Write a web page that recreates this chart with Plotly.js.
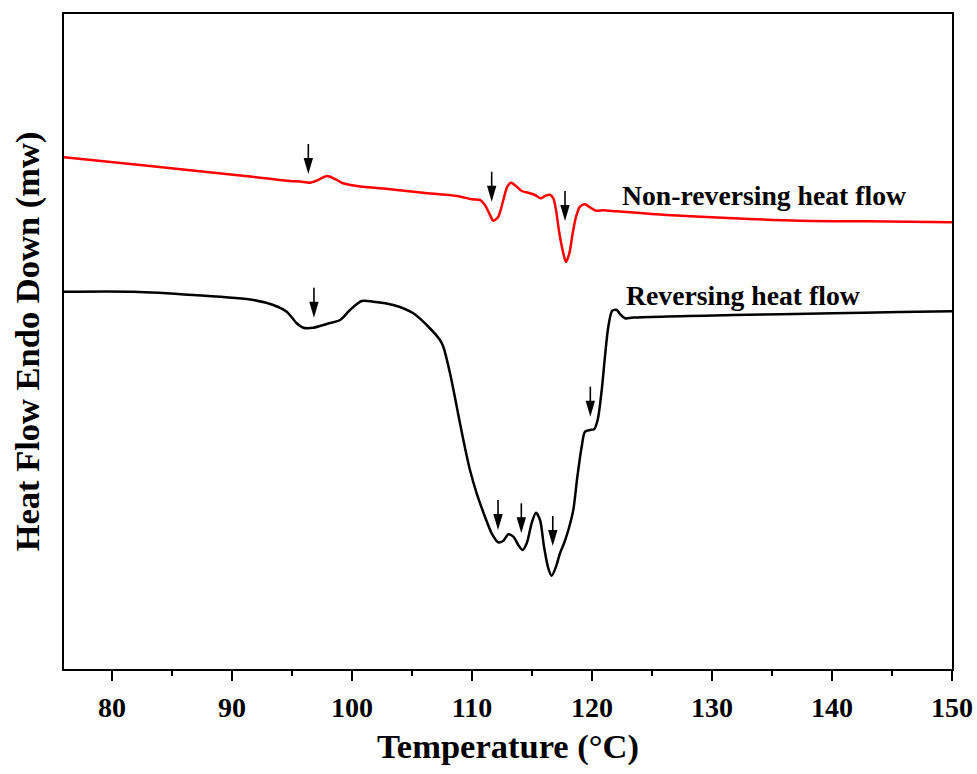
<!DOCTYPE html>
<html>
<head>
<meta charset="utf-8">
<script src="https://cdn.plot.ly/plotly-3.0.1.min.js"></script>
<style>html,body{margin:0;padding:0;background:#fff;}#chart{width:977px;height:774px;}</style>
</head>
<body>
<div id="chart"></div>
<script>
// Non-reversing heat flow (red), arbitrary heat-flow units
var nonRevT = [76.0, 83.17, 91.5, 94.83, 95.67, 96.5, 97.17, 97.92, 98.58, 99.25, 100.42, 103.17, 105.92, 108.75, 110.0, 110.67, 111.08, 111.5, 111.78, 112.19, 112.61, 112.94, 113.25, 113.73, 114.14, 114.69, 115.25, 115.73, 116.08, 116.5, 116.78, 117.0, 117.28, 117.61, 117.83, 118.11, 118.39, 118.67, 119.0, 119.42, 119.83, 120.33, 120.94, 122.06, 126.22, 131.78, 137.33, 142.89, 150.0];
var nonRevQ = [511.7, 503, 492.5, 488, 487.5, 486.3, 489, 493, 490, 485.7, 483, 479.7, 476.3, 473, 469.7, 469, 464, 454, 448.3, 452.3, 469, 482.3, 486.3, 482.3, 478, 476.3, 474, 470.7, 473, 474.3, 470.7, 459, 435.7, 415.7, 407, 415.7, 435.7, 452.3, 462.3, 464.7, 461.7, 458.3, 458.7, 457.7, 454, 450.7, 448.3, 447.7, 446.7];

// Reversing heat flow (black)
var revT = [76.0, 81.78, 86.78, 91.78, 93.44, 94.56, 95.39, 95.94, 96.78, 97.89, 99.0, 99.83, 100.81, 101.78, 103.44, 105.11, 106.22, 107.33, 107.61, 108.17, 108.73, 109.28, 109.83, 110.39, 111.08, 111.64, 112.19, 112.61, 113.03, 113.44, 113.86, 114.22, 114.56, 114.97, 115.33, 115.67, 116.0, 116.36, 116.64, 117.0, 117.33, 117.67, 118.03, 118.44, 118.78, 119.14, 119.42, 119.83, 120.17, 120.47, 120.81, 121.08, 121.36, 121.69, 122.06, 122.33, 122.75, 123.44, 131.75, 140.08, 145.67, 150.0];
var revQ = [377.3, 377.3, 374, 369, 364, 357.3, 345.7, 341.3, 341.3, 345, 349, 359, 368, 367.3, 364, 355.7, 344, 329, 322.3, 295.7, 262.3, 229, 199, 175.7, 152.3, 135.7, 126.7, 128.3, 134.7, 132.3, 124, 119, 125.7, 145.7, 156.3, 149, 122.3, 100.7, 93.3, 102.3, 115.7, 125.7, 139, 159, 192.3, 222.3, 237.3, 239, 239.7, 249, 279, 312.3, 342.3, 358.3, 359, 355, 350.7, 351.5, 354, 355.7, 357, 357.7];

// Arrow tips marking transitions
var arrowT = [96.36, 111.64, 117.75, 96.83, 112.17, 114.11, 116.73, 119.86];
var arrowQ = [495, 467.3, 448, 351.3, 139, 135.7, 123, 252.3];

// Curve labels
var labelText = ['Non-reversing heat flow', 'Reversing heat flow'];
var labelT = [122.35, 122.7];
var labelQ = [474, 374];

var xTicks = [80, 90, 100, 110, 120, 130, 140, 150];

var serif = '"Liberation Serif", "Times New Roman", Times, serif';

var traces = [
  {x: nonRevT, y: nonRevQ, type: 'scatter', mode: 'lines', name: 'Non-reversing heat flow',
   line: {color: '#ff0000', width: 2.5, shape: 'spline', smoothing: 0.8}},
  {x: revT, y: revQ, type: 'scatter', mode: 'lines', name: 'Reversing heat flow',
   line: {color: '#000000', width: 2.5, shape: 'spline', smoothing: 0.8}}
];

var shapes = [];
for (var i = 0; i < arrowT.length; i++) {
  shapes.push({type: 'line', xref: 'x', yref: 'y', xsizemode: 'pixel', ysizemode: 'pixel',
    xanchor: arrowT[i], yanchor: arrowQ[i], x0: 0, x1: 0, y0: 14, y1: 30,
    line: {color: '#000', width: 1.6}});
  shapes.push({type: 'path', xref: 'x', yref: 'y', xsizemode: 'pixel', ysizemode: 'pixel',
    xanchor: arrowT[i], yanchor: arrowQ[i], path: 'M-4.7,16L4.7,16L0,0Z',
    fillcolor: '#000', line: {width: 0}});
}

var annotations = labelText.map(function (t, i) {
  return {x: labelT[i], y: labelQ[i], xref: 'x', yref: 'y', text: '<b>' + t + '</b>',
    showarrow: false, xanchor: 'left', yanchor: 'middle',
    font: {family: serif, size: 27.7, color: '#000'}};
});

var layout = {
  width: 977, height: 774,
  margin: {l: 64, r: 25, t: 14, b: 105},
  paper_bgcolor: '#fff', plot_bgcolor: '#fff',
  showlegend: false,
  font: {family: serif, color: '#000'},
  xaxis: {
    range: [76, 150], tickvals: xTicks, ticktext: xTicks.map(String),
    ticks: 'outside', ticklen: 10, tickwidth: 2, tickcolor: '#000',
    minor: {dtick: 5, tick0: 75, ticks: 'outside', ticklen: 5, tickwidth: 2, tickcolor: '#000'},
    showline: true, linewidth: 2, linecolor: '#000', mirror: true,
    showgrid: false, zeroline: false,
    tickfont: {family: serif, size: 28, color: '#000', weight: 'bold'},
    ticklabelstandoff: 2,
    title: {text: '<b>Temperature (°C)</b>', font: {family: serif, size: 34.5, color: '#000'}, standoff: 12}
  },
  yaxis: {
    range: [0, 655], showticklabels: false, ticks: '',
    showline: true, linewidth: 2, linecolor: '#000', mirror: true,
    showgrid: false, zeroline: false,
    title: {text: '<b>Heat Flow Endo Down (mw)</b>', font: {family: serif, size: 34.5, color: '#000'}, standoff: 12}
  },
  shapes: shapes,
  annotations: annotations
};

Plotly.newPlot('chart', traces, layout, {displayModeBar: false, staticPlot: true});
</script>
</body>
</html>
